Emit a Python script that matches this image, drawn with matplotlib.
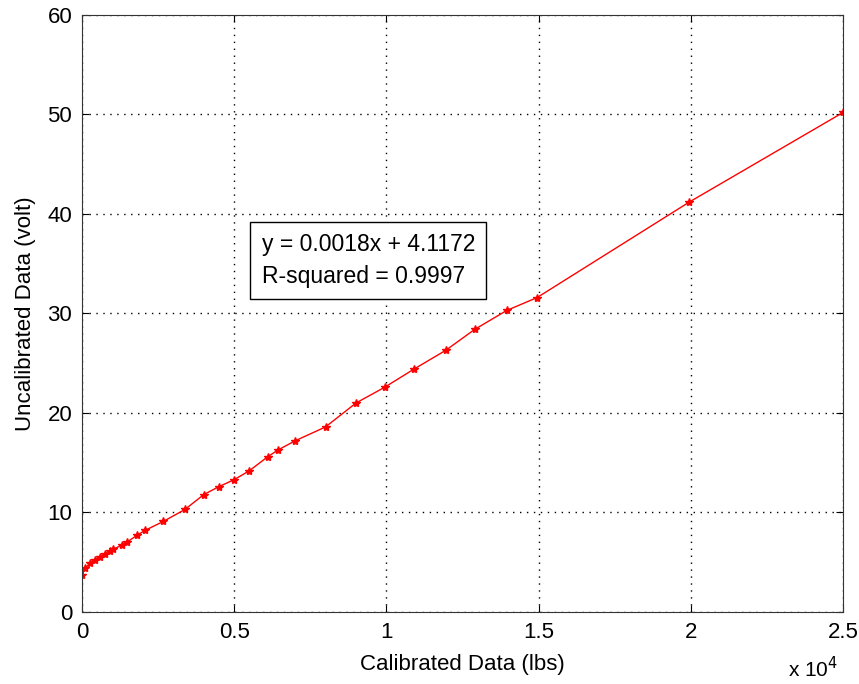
import numpy as np
import matplotlib.pyplot as plt
from matplotlib.ticker import FuncFormatter

plt.rcParams['font.family'] = ['Liberation Sans', 'DejaVu Sans']

# dados
calibrado = [0, 100, 260, 430, 590, 760, 920, 1020, 1300, 1470, 1800, 2070,
             2670, 3380, 4000, 4500, 5000, 5500, 6100, 6450, 7000, 8000, 9000,
             9950, 10900, 11950, 12900, 13950, 14950, 19950, 25000]
nao_calibrado = [3.7, 4.4, 4.9, 5.2, 5.5, 5.8, 6.1, 6.3, 6.7, 7.0, 7.7, 8.2,
                 9.1, 10.3, 11.8, 12.6, 13.3, 14.2, 15.6, 16.3, 17.2, 18.6, 21.0,
                 22.6, 24.4, 26.3, 28.4, 30.3, 31.6, 41.2, 50.2]
x_ticks = [0, 5000, 10000, 15000, 20000, 25000]
y_ticks = [0, 10, 20, 30, 40, 50, 60]

fig = plt.figure(figsize=(8.59, 6.84), dpi=100)
ax = fig.add_axes([0.0955, 0.1053, 0.8859, 0.8728])

ax.plot(calibrado, nao_calibrado, '-', color='red', lw=1,
        marker='*', markersize=6)

ax.set_xlim(0, 25000)
ax.set_ylim(0, 60)
ax.set_xticks(x_ticks)
ax.set_yticks(y_ticks)
ax.xaxis.set_major_formatter(FuncFormatter(lambda v, p: '%g' % (v / 1e4)))
ax.tick_params(direction='in', top=True, right=True, labelsize=16, length=5, pad=7)
ax.grid(True, color='black', linestyle=(0, (1, 4)), lw=1)
for s in ax.spines.values():
    s.set_color('#333333')

ax.set_xlabel('Calibrated Data (lbs)', fontsize=16, labelpad=8)
ax.set_ylabel('Uncalibrated Data (volt)', fontsize=16, labelpad=8)

# fator de escala do eixo x (estilo MATLAB)
ax.text(0.993, -0.095, r'x 10$^4$', transform=ax.transAxes, fontsize=15,
        ha='right', va='center')

# caixa com a equacao
ax.text(0.236, 0.634, 'y = 0.0018x + 4.1172\nR-squared = 0.9997',
        transform=ax.transAxes, fontsize=16.5, va='top', ha='left',
        linespacing=1.45,
        bbox=dict(boxstyle='square,pad=0.5', facecolor='white', edgecolor='black'))

plt.savefig('out.png', dpi=100)
